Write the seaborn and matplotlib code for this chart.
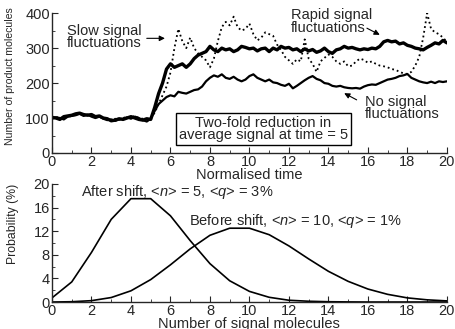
import numpy as np
import pandas as pd
import matplotlib
matplotlib.use("Agg")
import matplotlib.pyplot as plt
import seaborn as sns

# time grid (normalised time, step 0.2)
time = np.round(np.arange(101) * 0.2, 1)

rapid = [102, 100, 96, 104, 106, 108, 112, 114, 110, 108,
         110, 104, 106, 100, 98, 92, 94, 98, 96, 100,
         104, 100, 96, 94, 98, 96, 130, 170, 200, 240,
         255, 245, 250, 255, 245, 255, 270, 280, 285, 290,
         305, 295, 290, 300, 295, 298, 290, 295, 305, 302,
         298, 300, 292, 298, 300, 290, 300, 295, 305, 300,
         302, 295, 298, 290, 298, 292, 296, 288, 292, 300,
         290, 285, 295, 298, 305, 300, 302, 298, 295, 298,
         296, 300, 298, 305, 318, 322, 318, 320, 312, 315,
         308, 305, 300, 298, 295, 302, 308, 315, 312, 322, 315]

slow = [100, 104, 98, 102, 108, 104, 110, 112, 108, 110,
        104, 106, 100, 102, 96, 94, 98, 95, 100, 104,
        102, 106, 100, 98, 96, 100, 115, 140, 165, 190,
        230, 300, 355, 320, 300, 330, 300, 285, 275, 265,
        245, 270, 320, 360, 375, 365, 390, 360, 350, 355,
        370, 340, 322, 330, 345, 340, 335, 310, 295, 275,
        265, 255, 268, 262, 325, 270, 255, 232, 262, 272,
        282, 275, 262, 255, 262, 248, 250, 262, 270, 266,
        258, 262, 255, 250, 248, 245, 240, 238, 232, 228,
        226, 232, 250, 275, 330, 400, 355, 345, 340, 330, 318]

nosignal = [98, 102, 100, 96, 104, 106, 108, 112, 106, 110,
            104, 100, 104, 98, 94, 96, 92, 96, 98, 102,
            98, 104, 100, 94, 90, 98, 120, 140, 150, 160,
            165, 162, 175, 172, 170, 175, 180, 182, 190, 205,
            215, 222, 218, 225, 215, 212, 218, 210, 205, 210,
            220, 225, 215, 210, 205, 210, 202, 200, 195, 192,
            198, 185, 192, 200, 208, 215, 220, 212, 208, 200,
            198, 192, 190, 192, 188, 186, 185, 186, 184, 190,
            194, 196, 195, 200, 205, 210, 212, 215, 220, 222,
            226, 215, 210, 205, 202, 200, 204, 200, 205, 203, 205]

# probability distributions of signal molecules (%)
n_signal = list(range(21))
p_after = [0.7, 3.4, 8.4, 14.0, 17.5, 17.5, 14.6, 10.4, 6.5, 3.6,
           1.8, 0.8, 0.3, 0.13, 0.05, 0.02, 0, 0, 0, 0, 0]
p_before = [0.0, 0.05, 0.23, 0.76, 1.9, 3.8, 6.3, 9.0, 11.3, 12.5,
            12.5, 11.4, 9.5, 7.3, 5.2, 3.5, 2.2, 1.3, 0.7, 0.37, 0.19]

sns.set_style("ticks")
plt.rcParams['font.family'] = ['Liberation Sans', 'DejaVu Sans']
plt.rcParams['mathtext.fontset'] = 'custom'
plt.rcParams['mathtext.it'] = 'Liberation Sans:italic'

fig = plt.figure(figsize=(4.56, 3.29), dpi=100)
ax1 = fig.add_axes([0.114, 0.535, 0.866, 0.425])
ax2 = fig.add_axes([0.114, 0.082, 0.866, 0.359])

ts = pd.DataFrame({"t": time, "rapid": rapid, "slow": slow, "none": nosignal})
sns.lineplot(data=ts, x="t", y="slow", ax=ax1, color="black", lw=1.3, linestyle=":")
sns.lineplot(data=ts, x="t", y="none", ax=ax1, color="black", lw=1.6)
sns.lineplot(data=ts, x="t", y="rapid", ax=ax1, color="black", lw=2.4)

dist = pd.DataFrame({"n": n_signal, "after": p_after, "before": p_before})
sns.lineplot(data=dist, x="n", y="after", ax=ax2, color="black", lw=1.2)
sns.lineplot(data=dist, x="n", y="before", ax=ax2, color="black", lw=1.2)

for ax in (ax1, ax2):
    sns.despine(ax=ax)
    ax.set_xlim(0, 20)
    ax.set_xticks(range(0, 21, 2))
    ax.set_xticks(range(0, 21), minor=True)
    ax.tick_params(direction="in", length=4, width=0.8, labelsize=10.5, pad=1.5)
    ax.tick_params(which="minor", direction="in", length=2, width=0.6)
    for s in ax.spines.values():
        s.set_linewidth(1.0)

ax1.set_ylim(0, 400)
ax1.set_yticks(range(0, 401, 100))
ax1.set_yticks(range(0, 401, 50), minor=True)
ax1.set_xlabel("Normalised time", fontsize=10.5, labelpad=-0.5)
ax1.set_ylabel("Number of product molecules", fontsize=7.6)
ax1.yaxis.set_label_coords(-0.094, 0.55)

ax2.set_ylim(0, 20)
ax2.set_yticks(range(0, 21, 4))
ax2.set_yticks(range(0, 21, 2), minor=True)
ax2.set_xlabel("Number of signal molecules", fontsize=10.5, labelpad=-1)
ax2.set_ylabel("Probability (%)", fontsize=8.8)
ax2.yaxis.set_label_coords(-0.084, 0.66)

fs = 10.5
ls = 0.85
arrow = dict(arrowstyle="-|>", color="black", lw=0.8,
             shrinkA=0, shrinkB=0, mutation_scale=8)
ax1.text(0.75, 332, "Slow signal\nfluctuations", fontsize=fs, va="center",
         ha="left", linespacing=ls)
ax1.annotate("", xy=(5.72, 328), xytext=(4.8, 328), arrowprops=arrow)
ax1.text(12.1, 376, "Rapid signal\nfluctuations", fontsize=fs, va="center",
         ha="left", linespacing=ls)
ax1.annotate("", xy=(16.6, 338), xytext=(15.95, 357), arrowprops=arrow)
ax1.text(15.85, 128, "No signal\nfluctuations", fontsize=fs, va="center",
         ha="left", linespacing=ls)
ax1.annotate("", xy=(14.8, 171), xytext=(15.43, 152), arrowprops=arrow)
ax1.text(10.7, 69, "Two-fold reduction in\naverage signal at time = 5",
         fontsize=fs, ha="center", va="center", linespacing=ls,
         bbox=dict(boxstyle="square,pad=0.2", fc="white", ec="black", lw=1.0))

ax2.text(1.45, 18.7, r"After shift, <$n$> = 5, <$q$> = 3%", fontsize=fs,
         ha="left", va="center")
ax2.text(6.95, 13.8, r"Before shift, <$n$> = 10, <$q$> = 1%", fontsize=fs,
         ha="left", va="center")

fig.savefig("out.png", dpi=100)
